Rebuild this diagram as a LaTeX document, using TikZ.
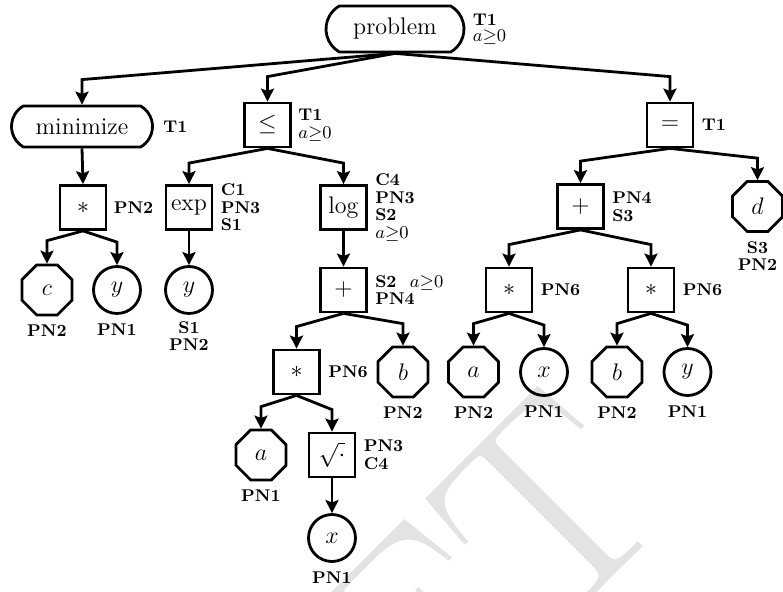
\documentclass[tikz,border=0pt]{standalone}
\usetikzlibrary{shapes.geometric,shapes.misc,arrows.meta}
\newcommand{\nonneg}{{\fontsize{9.5}{9}\selectfont$a{\geq}0$}}
\begin{document}
\begin{tikzpicture}[x=0.5pt,y=-0.5pt,
  every node/.style={inner sep=0pt},
  mainfont/.style={font=\fontsize{12}{14}\selectfont},
  fnbox/.style={draw, line width=1.4pt, rectangle, minimum width=23pt, minimum height=22pt, mainfont},
  cstbox/.style={draw, line width=1.4pt, regular polygon, regular polygon sides=8, minimum size=27pt, mainfont},
  varbox/.style={draw, line width=1.4pt, circle, minimum size=23.5pt, mainfont},
  rootbox/.style={draw, line width=1.4pt, rounded rectangle, rounded rectangle arc length=120, mainfont},
  sidetag/.style={font=\fontsize{8.5}{8.8}\selectfont\bfseries, align=left, anchor=west},
  undertag/.style={font=\fontsize{8.5}{8.8}\selectfont\bfseries, align=center, anchor=north},
  link/.style={line width=1.4pt, {Stealth[length=6.5pt,width=6.5pt,inset=1.2pt]}-},
]
\useasboundingbox (0,0) rectangle (783,592);

% faint watermark in the background
\begin{scope}
  \clip (0,0) rectangle (783,592);
  \node[rotate=45, anchor=base east, text=black!11, font=\fontsize{138}{138}\selectfont] (wm) at (680,510) {DRAFT};
\end{scope}

% level 0
\node[rootbox, minimum width=69pt, minimum height=23pt] (problem) at (395,29) {problem};
% level 1
\node[rootbox, minimum width=70.5pt, minimum height=20.5pt] (minimize) at (82,126.5) {minimize};
\node[fnbox] (le) at (267.5,125) {$\leq$};
\node[fnbox] (eq) at (670,125) {$=$};
% level 2
\node[fnbox] (mulA) at (83,207.5) {$*$};
\node[fnbox] (exp) at (189,207.5) {$\exp$};
\node[fnbox] (log) at (343.5,207.5) {$\log$};
\node[fnbox] (plusR) at (580.5,206.5) {$+$};
\node[cstbox] (d) at (757.5,206.5) {$d$};
% level 3
\node[cstbox] (c) at (47,290) {$c$};
\node[varbox] (yA) at (117,290) {$y$};
\node[varbox] (yB) at (189,290) {$y$};
\node[fnbox] (plusL) at (343.5,290) {$+$};
\node[fnbox] (mulR1) at (509,290) {$*$};
\node[fnbox] (mulR2) at (651,290) {$*$};
% level 4
\node[fnbox] (mulL) at (296.5,372) {$*$};
\node[cstbox] (bA) at (403,372) {$b$};
\node[cstbox] (aB) at (473.5,372) {$a$};
\node[varbox] (xB) at (544,372) {$x$};
\node[cstbox] (bB) at (617,372) {$b$};
\node[varbox] (yC) at (687.5,372) {$y$};
% level 5
\node[cstbox] (aA) at (261,455) {$a$};
\node[fnbox] (sqrt) at (332,455) {$\sqrt{\cdot}$};
% level 6
\node[varbox] (xA) at (332,538) {$x$};

% side tags
\node[sidetag] (tProblem) at ([xshift=3.5pt]problem.east) {T1\\[-1pt]\nonneg};
\node[sidetag] (tMinimize) at ([xshift=4.5pt]minimize.east) {T1};
\node[sidetag] (tLe) at ([xshift=3pt]le.east) {T1\\\nonneg};
\node[sidetag] (tEq) at ([xshift=3.5pt]eq.east) {T1};
\node[sidetag] (tMulA) at ([xshift=3pt]mulA.east) {PN2};
\node[sidetag] (tExp) at ([xshift=3.5pt]exp.east) {C1\\PN3\\S1};
\node[sidetag] (tLog) at ([xshift=3.5pt]log.east) {C4\\PN3\\S2\\\nonneg};
\node[sidetag] (tPlusR) at ([xshift=3.5pt]plusR.east) {PN4\\S3};
\node[sidetag] (tPlusL) at ([xshift=3.5pt]plusL.east) {S2~~\nonneg\\PN4};
\node[sidetag] (tMulR1) at ([xshift=3.5pt]mulR1.east) {PN6};
\node[sidetag] (tMulR2) at ([xshift=3.5pt]mulR2.east) {PN6};
\node[sidetag] (tMulL) at ([xshift=3.5pt]mulL.east) {PN6};
\node[sidetag] (tSqrt) at ([xshift=3.5pt]sqrt.east) {PN3\\C4};

% tags below leaves
\node[undertag] (uD) at ([yshift=-4pt]d.south) {S3\\PN2};
\node[undertag] (uC) at ([yshift=-4pt]c.south) {PN2};
\node[undertag] (uYA) at ([yshift=-4.5pt]yA.south) {PN1};
\node[undertag] (uYB) at ([yshift=-3pt]yB.south) {S1\\PN2};
\node[undertag] (uBA) at ([yshift=-4pt]bA.south) {PN2};
\node[undertag] (uAB) at ([yshift=-4pt]aB.south) {PN2};
\node[undertag] (uXB) at ([yshift=-4.5pt]xB.south) {PN1};
\node[undertag] (uBB) at ([yshift=-4pt]bB.south) {PN2};
\node[undertag] (uYC) at ([yshift=-4.5pt]yC.south) {PN1};
\node[undertag] (uAA) at ([yshift=-4pt]aA.south) {PN1};
\node[undertag] (uXA) at ([yshift=-4.5pt]xA.south) {PN1};

% connectors
\draw[link] (minimize.north) -- ++(0,-25) -- (problem.south);
\draw[link] (le.north) -- ++(0,-25) -- (problem.south);
\draw[link] (eq.north) -- ++(0,-25) -- (problem.south);

\draw[link] (mulA.north) -- (minimize.south);
\draw[link] (c.north) -- ++(0,-23) -- (mulA.south);
\draw[link] (yA.north) -- ++(0,-23) -- (mulA.south);

\draw[link] (exp.north) -- ++(0,-21) -- (le.south);
\draw[link] (log.north) -- ++(0,-21) -- (le.south);
\draw[link] (yB.north) -- (exp.south);
\draw[link] (plusL.north) -- (log.south);
\draw[link] (mulL.north) -- ++(0,-22) -- (plusL.south);
\draw[link] (bA.north) -- ++(0,-22) -- (plusL.south);
\draw[link] (aA.north) -- ++(0,-22) -- (mulL.south);
\draw[link] (sqrt.north) -- ++(0,-22) -- (mulL.south);
\draw[link] (xA.north) -- (sqrt.south);

\draw[link] (plusR.north) -- ++(0,-22) -- (eq.south);
\draw[link] (d.north) -- ++(0,-22) -- (eq.south);
\draw[link] (mulR1.north) -- ++(0,-22) -- (plusR.south);
\draw[link] (mulR2.north) -- ++(0,-22) -- (plusR.south);
\draw[link] (aB.north) -- ++(0,-22) -- (mulR1.south);
\draw[link] (xB.north) -- ++(0,-22) -- (mulR1.south);
\draw[link] (bB.north) -- ++(0,-22) -- (mulR2.south);
\draw[link] (yC.north) -- ++(0,-22) -- (mulR2.south);
\end{tikzpicture}
\end{document}
